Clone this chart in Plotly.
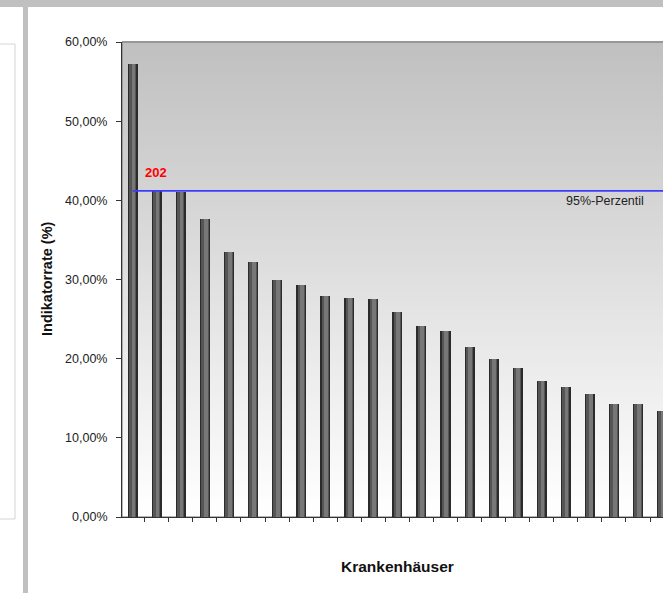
import plotly.graph_objects as go

# ---- data ----
hospitals = ["KH%02d" % (i + 1) for i in range(23)]
rates = [57.2, 41.2, 41.0, 37.7, 33.5, 32.2, 30.0, 29.3, 27.9, 27.7, 27.6, 25.9,
         24.1, 23.5, 21.5, 20.0, 18.8, 17.2, 16.4, 15.6, 14.3, 14.3, 13.4]
percentile_95 = 41.2
highlight_label = "202"
highlight_index = 1
y_ticks = [0, 10, 20, 30, 40, 50, 60]
y_tick_labels = ["0,00%", "10,00%", "20,00%", "30,00%", "40,00%", "50,00%", "60,00%"]

W, H = 663, 593
L, R, T, B = 122, 663, 42, 517  # plot area in pixels


def px(x):
    return (x - L) / (R - L)


def py(y):
    return (B - y) / (B - T)


FONT = "Liberation Sans, Arial, sans-serif"

fig = go.Figure()
# cylinder-like bars: dark outer + lighter inner strips
for width, offset, color in [(0.42, -0.21, "#2b2b2b"),
                             (0.30, -0.15, "#555555"),
                             (0.16, -0.05, "#777777")]:
    fig.add_trace(go.Bar(x=hospitals, y=rates, width=width, offset=offset,
                         marker=dict(color=color, line=dict(width=0)),
                         hoverinfo="skip", showlegend=False))

shapes = []
# plot area gradient background
N = 95
for i in range(N):
    t = i / (N - 1)
    v = int(round(192 + (255 - 192) * t))
    shapes.append(dict(type="rect", xref="x domain", yref="y domain",
                       x0=0, x1=1, y0=1 - (i + 1) / N, y1=1 - i / N + 0.002,
                       fillcolor="rgb(%d,%d,%d)" % (v, v, v), line=dict(width=0),
                       layer="below"))
# plot area border
shapes.append(dict(type="rect", xref="x domain", yref="y domain", x0=0, x1=1.01,
                   y0=0, y1=1, line=dict(color="#6e6e6e", width=1), layer="below"))
# 95 % percentile line
shapes.append(dict(type="line", xref="x", yref="y", x0=0, x1=len(rates) + 1,
                   y0=percentile_95, y1=percentile_95,
                   line=dict(color="#3c3cff", width=1.6), layer="above"))
# page decorations
shapes.append(dict(type="rect", xref="paper", yref="paper", x0=px(0), x1=px(W),
                   y0=py(7), y1=py(0), fillcolor="#c0c0c0", line=dict(width=0)))
shapes.append(dict(type="rect", xref="paper", yref="paper", x0=px(23), x1=px(28),
                   y0=py(H), y1=py(0), fillcolor="#c0c0c0", line=dict(width=0)))
shapes.append(dict(type="rect", xref="paper", yref="paper", x0=px(-2), x1=px(15),
                   y0=py(519), y1=py(44), fillcolor="white",
                   line=dict(color="#d4d4d4", width=1)))

annotations = [
    dict(x=hospitals[highlight_index], y=percentile_95, xref="x", yref="y",
         text="<b>%s</b>" % highlight_label, showarrow=False, yanchor="bottom",
         yshift=9, xshift=-1, font=dict(family=FONT, size=13, color="#ff0000")),
    dict(x=px(646), y=percentile_95, xref="paper", yref="y", text="95%-Perzentil",
         showarrow=False, xanchor="right", yanchor="top", yshift=-1,
         font=dict(family=FONT, size=12.5, color="#222222")),
    dict(x=px(47), y=py(279), xref="paper", yref="paper",
         text="<b>Indikatorrate (%)</b>", textangle=-90, showarrow=False,
         xanchor="center", yanchor="middle",
         font=dict(family=FONT, size=14.5, color="#111111")),
    dict(x=px(397), y=py(566), xref="paper", yref="paper",
         text="<b>Krankenhäuser</b>", showarrow=False,
         xanchor="center", yanchor="middle",
         font=dict(family=FONT, size=15.5, color="#111111")),
]

fig.update_layout(
    width=W, height=H, autosize=False,
    margin=dict(l=L, r=W - R, t=T, b=H - B, pad=0),
    paper_bgcolor="white", plot_bgcolor="white",
    barmode="overlay", bargap=0,
    shapes=shapes, annotations=annotations,
    font=dict(family=FONT, size=13, color="#222222"),
    xaxis=dict(type="category", range=[-0.445, 22.04], showticklabels=False,
               ticks="outside", tickson="boundaries", ticklen=4, tickwidth=1,
               tickcolor="#333333", showline=True, linecolor="#333333",
               linewidth=1, showgrid=False, zeroline=False, fixedrange=True),
    yaxis=dict(range=[0, 60], tickmode="array", tickvals=y_ticks,
               ticktext=y_tick_labels,
               ticks="outside", ticklen=5, tickwidth=1, tickcolor="#333333",
               ticklabelstandoff=6, showline=True, linecolor="#333333",
               linewidth=1, showgrid=False, zeroline=False,
               tickfont=dict(family=FONT, size=12.5, color="#222222")),
)

fig.write_html("out.html")
